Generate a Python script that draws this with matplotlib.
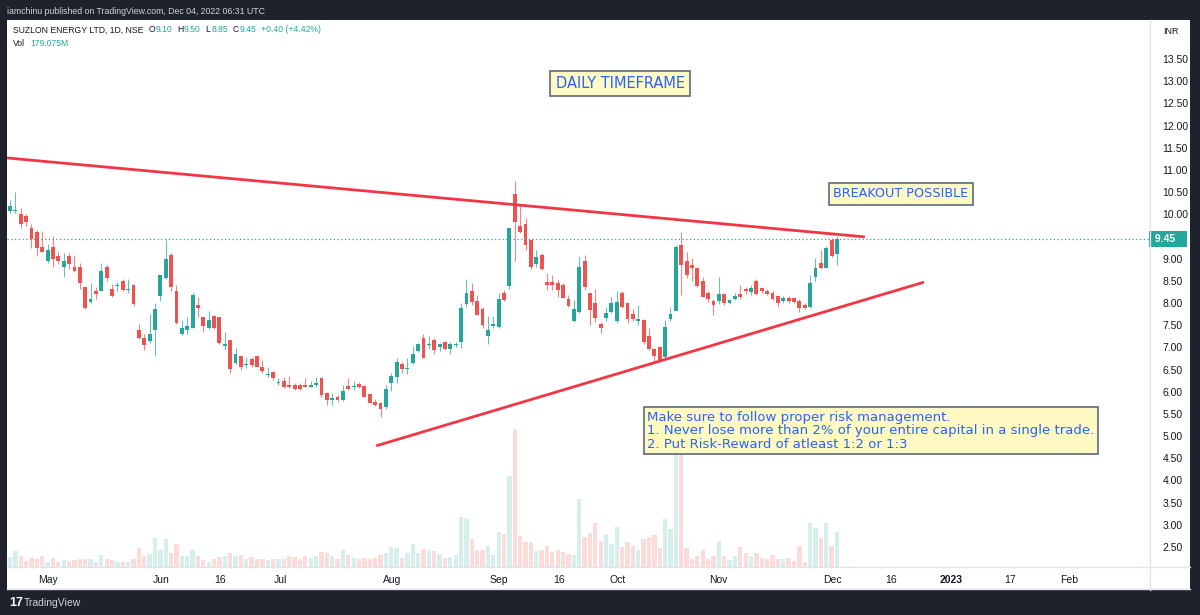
import numpy as np
import matplotlib
matplotlib.use("Agg")
import matplotlib.pyplot as plt
from matplotlib.lines import Line2D
from matplotlib.patches import Rectangle
from matplotlib.transforms import blended_transform_factory

# daily OHLC, SUZLON (NSE), late Apr 2022 -> 02 Dec 2022
opens = [10.08, 10.07, 10.01, 9.96, 9.68, 9.60, 9.26, 8.94, 9.26, 9.05,
         8.81, 9.05, 8.81, 8.81, 8.36, 8.03, 8.27, 8.28, 8.81, 8.31,
         8.39, 8.49, 8.30, 8.40, 7.40, 7.21, 7.14, 7.38, 8.16, 8.57,
         9.08, 8.27, 7.30, 7.38, 7.44, 7.95, 7.68, 7.44, 7.71, 7.68,
         7.02, 7.16, 6.65, 6.80, 6.61, 6.74, 6.80, 6.56, 6.37, 6.44,
         6.20, 6.24, 6.15, 6.15, 6.15, 6.15, 6.11, 6.14, 6.32, 5.96,
         5.81, 5.89, 5.82, 6.13, 6.11, 6.17, 6.13, 5.94, 5.76, 5.75,
         5.65, 6.19, 6.34, 6.62, 6.52, 6.65, 6.92, 7.21, 7.05, 7.16,
         7.01, 7.11, 6.97, 7.05, 7.11, 7.98, 8.27, 8.04, 7.86, 7.25,
         7.48, 7.47, 8.23, 8.38, 10.46, 9.74, 9.78, 9.42, 8.89, 9.08,
         8.48, 8.48, 8.46, 8.41, 8.08, 7.60, 7.80, 8.95, 8.22, 7.99,
         7.53, 7.67, 7.80, 7.60, 8.22, 8.01, 7.75, 7.60, 7.62, 7.26,
         6.96, 7.00, 6.79, 7.65, 7.83, 9.31, 8.95, 8.86, 8.80, 8.50,
         8.22, 8.05, 8.05, 8.20, 8.00, 8.10, 8.20, 8.32, 8.25, 8.50,
         8.33, 8.28, 8.22, 8.16, 8.04, 8.11, 8.11, 8.05, 7.96, 7.90,
         8.59, 8.91, 8.80, 9.41, 9.10]
highs = [10.32, 10.50, 10.14, 10.01, 9.78, 9.65, 9.63, 9.33, 9.50, 9.17,
         9.13, 9.12, 9.08, 8.91, 8.36, 8.45, 8.35, 8.90, 8.86, 8.42,
         8.48, 8.54, 8.54, 8.42, 7.53, 7.30, 7.76, 7.99, 8.64, 9.41,
         9.13, 8.40, 7.62, 7.68, 8.22, 8.13, 7.69, 7.81, 7.74, 7.69,
         7.34, 7.17, 6.98, 6.81, 6.79, 6.79, 6.80, 6.71, 6.56, 6.47,
         6.30, 6.34, 6.35, 6.19, 6.20, 6.30, 6.25, 6.34, 6.34, 6.00,
         5.96, 5.92, 6.14, 6.30, 6.24, 6.21, 6.15, 5.95, 5.83, 5.77,
         6.15, 6.43, 6.75, 6.68, 6.75, 7.03, 7.10, 7.31, 7.25, 7.20,
         7.09, 7.15, 7.12, 7.13, 7.99, 8.54, 8.46, 8.18, 7.92, 7.71,
         7.71, 8.23, 8.29, 9.70, 10.74, 10.21, 9.91, 9.44, 9.20, 9.12,
         8.67, 8.63, 8.52, 8.46, 8.18, 8.07, 9.06, 9.08, 8.23, 8.31,
         7.58, 7.92, 8.13, 8.26, 8.26, 8.03, 7.86, 7.95, 7.63, 7.43,
         6.98, 7.02, 7.62, 7.92, 9.30, 9.60, 9.15, 9.01, 8.82, 8.59,
         8.26, 8.08, 8.59, 8.23, 8.10, 8.23, 8.41, 8.37, 8.40, 8.55,
         8.37, 8.31, 8.27, 8.17, 8.16, 8.15, 8.14, 8.08, 7.99, 8.63,
         9.01, 9.20, 9.29, 9.46, 9.50]
lows = [10.02, 10.04, 9.68, 9.74, 9.23, 9.06, 9.14, 8.91, 8.82, 8.87,
        8.59, 8.77, 8.70, 8.31, 7.86, 8.00, 8.10, 8.27, 8.50, 8.13,
        8.27, 8.27, 8.22, 7.93, 7.18, 6.93, 7.10, 6.81, 8.05, 8.55,
        8.27, 7.53, 7.28, 7.30, 7.43, 7.68, 7.35, 7.41, 7.42, 7.08,
        6.93, 6.43, 6.62, 6.50, 6.54, 6.56, 6.55, 6.43, 6.34, 6.26,
        6.16, 6.08, 6.08, 6.04, 6.04, 6.10, 6.10, 6.11, 5.89, 5.69,
        5.69, 5.77, 5.80, 6.04, 6.04, 6.09, 5.87, 5.74, 5.68, 5.44,
        5.62, 6.02, 6.20, 6.43, 6.39, 6.62, 6.89, 6.75, 6.96, 6.85,
        6.92, 6.94, 6.85, 7.00, 6.99, 7.92, 7.95, 7.72, 7.44, 7.08,
        7.44, 7.44, 8.05, 8.31, 8.95, 9.57, 9.20, 8.76, 8.82, 8.74,
        8.29, 8.29, 8.14, 8.11, 7.92, 7.58, 7.78, 8.29, 7.50, 7.58,
        7.32, 7.60, 7.78, 7.54, 7.89, 7.56, 7.60, 7.50, 7.08, 6.94,
        6.65, 6.70, 6.75, 7.60, 7.81, 8.18, 8.56, 8.50, 8.36, 8.13,
        8.02, 7.72, 7.98, 7.96, 7.98, 8.06, 8.10, 8.20, 8.19, 8.19,
        8.22, 8.17, 8.07, 7.92, 7.99, 7.99, 7.99, 7.80, 7.87, 7.89,
        8.50, 8.76, 8.78, 9.03, 8.85]
closes = [10.19, 10.10, 9.77, 9.82, 9.44, 9.23, 9.16, 9.19, 8.99, 8.94,
          8.95, 8.89, 8.71, 8.44, 7.88, 8.09, 8.20, 8.73, 8.57, 8.16,
          8.41, 8.29, 8.32, 7.98, 7.20, 7.06, 7.31, 7.86, 8.63, 9.00,
          8.35, 7.56, 7.44, 7.49, 8.17, 7.88, 7.49, 7.62, 7.44, 7.09,
          7.08, 6.51, 6.85, 6.56, 6.63, 6.61, 6.56, 6.47, 6.40, 6.30,
          6.22, 6.11, 6.11, 6.06, 6.06, 6.11, 6.15, 6.20, 5.92, 5.82,
          5.85, 5.81, 6.02, 6.05, 6.13, 6.11, 5.88, 5.75, 5.69, 5.61,
          6.06, 6.35, 6.67, 6.52, 6.54, 6.85, 7.07, 6.77, 7.07, 6.94,
          7.07, 6.96, 7.07, 7.07, 7.89, 8.23, 8.03, 7.74, 7.50, 7.39,
          7.52, 8.09, 8.07, 9.68, 9.82, 9.59, 9.31, 8.81, 9.04, 8.76,
          8.40, 8.40, 8.29, 8.12, 7.93, 7.86, 8.82, 8.35, 7.84, 7.67,
          7.44, 7.77, 7.99, 8.03, 7.90, 7.65, 7.65, 7.65, 7.11, 6.96,
          6.81, 6.72, 7.47, 7.75, 9.27, 8.85, 8.64, 8.80, 8.39, 8.14,
          8.10, 7.95, 8.20, 7.99, 8.06, 8.16, 8.14, 8.26, 8.33, 8.20,
          8.26, 8.20, 8.09, 8.01, 8.11, 8.04, 8.02, 7.88, 7.89, 8.46,
          8.80, 8.78, 9.25, 9.05, 9.45]
# volume, millions of shares
volumes = [51, 82, 56, 31, 46, 41, 56, 26, 46, 26,
           36, 31, 36, 41, 41, 41, 26, 61, 41, 36,
           26, 26, 26, 41, 97, 56, 67, 148, 87, 143,
           72, 118, 56, 56, 87, 56, 36, 26, 41, 51,
           56, 72, 56, 61, 41, 51, 41, 41, 36, 41,
           41, 41, 56, 51, 41, 56, 46, 56, 77, 72,
           56, 41, 87, 61, 46, 41, 46, 41, 46, 61,
           72, 102, 97, 46, 72, 118, 72, 92, 82, 82,
           67, 46, 51, 61, 256, 246, 143, 87, 87, 108,
           61, 179, 169, 466, 707, 159, 128, 128, 82, 87,
           108, 77, 87, 77, 67, 61, 348, 154, 174, 225,
           133, 169, 118, 205, 102, 128, 108, 87, 143, 154,
           164, 97, 246, 195, 768, 758, 97, 41, 56, 87,
           41, 56, 133, 56, 36, 56, 102, 72, 56, 72,
           46, 41, 61, 41, 41, 46, 31, 108, 26, 225,
           200, 148, 225, 108, 179]

# time axis labels (bar index where each label sits)
tick_labels = ["May", "Jun", "16", "Jul", "Aug", "Sep", "16", "Oct", "Nov",
               "Dec", "16", "2023", "17", "Feb"]
tick_bars = [7.1, 28.1, 39.1, 50.3, 71.1, 91.1, 102.2, 113.2, 132.0,
             153.1, 164.1, 175.2, 186.2, 197.2]
price_ticks = np.arange(2.5, 13.51, 0.5)

# drawn trendlines: (bar, price) end points
upper_line = ([-0.56, 159.2], [11.27, 9.49])
lower_line = ([68.2, 170.2], [4.78, 8.47])
last_price = 9.45

GREEN = "#26a69a"
RED = "#ef5350"
DARK = "#1e222d"
INK = "#131722"
W, H = 1200, 615

fig = plt.figure(figsize=(12, 6.15), dpi=100, facecolor=DARK)

def fx(px):
    return px / W

def fy(py):
    return 1 - py / H

# white chart panel (behind the axes)
fig.patches.append(Rectangle((fx(7), fy(590)), fx(1190 - 7), (590 - 20) / H,
                             transform=fig.transFigure, facecolor="white",
                             edgecolor="none", zorder=-5))

rect = [fx(7), fy(567), fx(1150 - 7), (567 - 20) / H]
vax = fig.add_axes(rect, facecolor="white")
ax = fig.add_axes(rect, facecolor="none", sharex=vax)

x = np.arange(len(closes))
o = np.array(opens); c = np.array(closes)
up = c >= o
cols = np.where(up, GREEN, RED)
vcols = np.where(up, "#d5efec", "#fcdcdb")

vax.bar(x, volumes, width=0.8, color=vcols, linewidth=0)
vax.set_ylim(0, 2800)
vax.axis("off")

ax.vlines(x, lows, highs, colors=cols, linewidth=0.8, alpha=0.7)
ax.bar(x, np.maximum(np.abs(c - o), 0.015), bottom=np.minimum(o, c),
       width=0.72, color=cols, linewidth=0)

ax.plot(*upper_line, color="#f23645", lw=2, solid_capstyle="butt")
ax.plot(*lower_line, color="#f23645", lw=2, solid_capstyle="butt")
ax.axhline(last_price, color=GREEN, lw=0.9, ls=(0, (1, 2)))

ax.set_xlim(-0.56, 212.3)
ax.set_ylim(2.048, 14.38)
for s in ax.spines.values():
    s.set_visible(False)

ax.yaxis.tick_right()
ax.set_yticks(price_ticks)
# the 9.50 label sits under the last-price tag
ax.set_yticklabels(["" if abs(v - 9.5) < 1e-6 else f"{v:.2f}" for v in price_ticks])
ax.tick_params(axis="y", length=0, pad=9, labelsize=7.5, labelcolor=INK)
ax.set_xticks(tick_bars)
ax.set_xticklabels(tick_labels)
ax.tick_params(axis="x", length=0, pad=6, labelsize=7.5, labelcolor=INK)
for t in ax.get_xticklabels():
    if t.get_text() == "2023":
        t.set_fontweight("bold")
    t.set_fontfamily("Liberation Sans")
for t in ax.get_yticklabels():
    t.set_fontfamily("Liberation Sans")

# last price tag
tr = blended_transform_factory(ax.transAxes, ax.transData)
ax.text(1.0 + 2 / 1143, last_price, " 9.45   ", transform=tr, va="center",
        ha="left", color="white", fontsize=7.5, fontweight="bold",
        family="Liberation Sans",
        bbox=dict(boxstyle="square,pad=0.3", fc=GREEN, ec="none"),
        clip_on=False, zorder=5)

# annotation boxes
box = dict(boxstyle="square,pad=0.35", fc="#fff9c4", ec="#5b6b7d", lw=1.2)
ax.text(113.6, 12.94, "DAILY TIMEFRAME", ha="center", va="center",
        color="#2962ff", fontsize=10.5, bbox=box, zorder=6)
ax.text(165.9, 10.46, "BREAKOUT POSSIBLE", ha="center", va="center",
        color="#2962ff", fontsize=9.2, bbox=box, zorder=6)
ax.text(118.7, 5.57,
        "Make sure to follow proper risk management.\n"
        "1. Never lose more than 2% of your entire capital in a single trade.\n"
        "2. Put Risk-Reward of atleast 1:2 or 1:3",
        ha="left", va="top", color="#2962ff", fontsize=9.5, linespacing=1.05,
        bbox=dict(boxstyle="square,pad=0.25", fc="#fff9c4", ec="#5b6b7d",
                  lw=1.2), zorder=6)

# panel separators
for xs, ys in [([1150, 1150], [20, 590]), ([7, 1190], [567, 567]),
               ([7, 1190], [589, 589])]:
    fig.lines.append(Line2D([fx(v) for v in xs], [fy(v) for v in ys],
                            transform=fig.transFigure, color="#e0e3eb",
                            lw=1))

# header texts, laid out piece by piece
fig.text(fx(7), fy(11), "iamchinu published on TradingView.com, Dec 04, 2022 06:31 UTC",
         color="#d1d4dc", fontsize=6.3, va="center", family="Liberation Sans")

renderer = fig.canvas.get_renderer()

def text_row(px, py, pieces, size=6.2):
    for s, col, gap in pieces:
        t = fig.text(fx(px), fy(py), s, color=col, fontsize=size,
                     va="center", family="Liberation Sans")
        px += t.get_window_extent(renderer).width + gap

text_row(13, 30, [("SUZLON ENERGY LTD, 1D, NSE", INK, 5),
                  ("O", INK, 0.5), ("9.10", GREEN, 5),
                  ("H", INK, 0.5), ("9.50", GREEN, 5),
                  ("L", INK, 0.5), ("8.85", GREEN, 5),
                  ("C", INK, 0.5), ("9.45", GREEN, 5),
                  ("+0.40 (+4.42%)", GREEN, 0)])
text_row(13, 43, [("Vol", INK, 5), ("179.075M", GREEN, 0)])
fig.text(fx(1163), fy(32), "INR", color=INK, fontsize=6.5, va="center",
         family="Liberation Sans")

# footer
fig.text(fx(9), fy(603), "17", color="white", fontsize=9, fontweight="bold",
         va="center", family="Liberation Sans")
fig.text(fx(24), fy(603), "TradingView", color="#d1d4dc", fontsize=7.5,
         va="center", family="Liberation Sans")

fig.savefig("out.png", dpi=100, facecolor=DARK)
